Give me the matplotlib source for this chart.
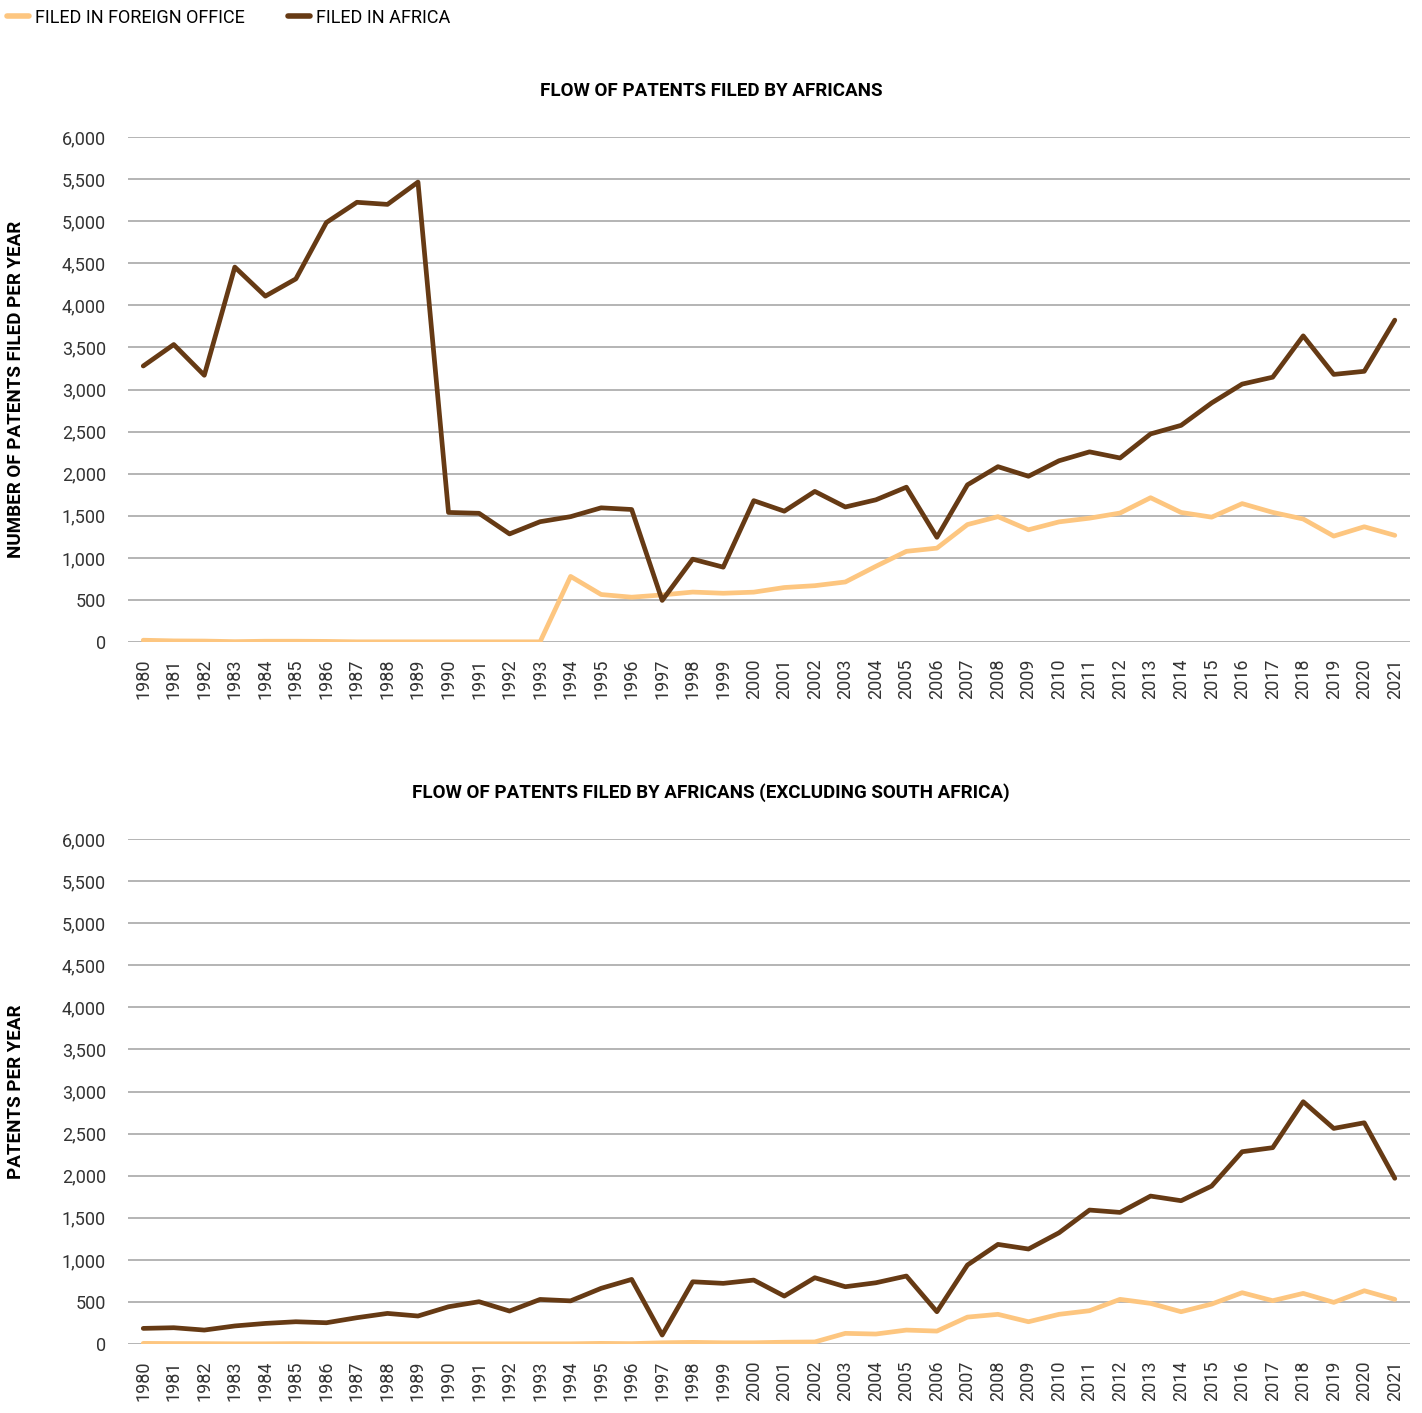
import matplotlib.pyplot as plt
from matplotlib.lines import Line2D
from matplotlib.ticker import StrMethodFormatter

plt.rcParams['font.family'] = ['Roboto', 'DejaVu Sans']

years = list(range(1980, 2022))

# all of Africa
africa_all = [3280, 3535, 3170, 4455, 4110, 4315, 4985, 5225, 5200, 5465,
              1540, 1530, 1285, 1430, 1490, 1595, 1575, 495, 985, 890,
              1680, 1555, 1790, 1605, 1690, 1840, 1245, 1868, 2084, 1970,
              2154, 2260, 2187, 2473, 2575, 2841, 3065, 3147, 3638, 3180,
              3217, 3825]
foreign_all = [22, 14, 12, 5, 10, 10, 8, 3, 3, 3,
               3, 3, 3, 3, 780, 565, 533, 560, 594, 580,
               593, 648, 670, 714, 900, 1078, 1116, 1396, 1490, 1334,
               1428, 1472, 1533, 1715, 1540, 1484, 1645, 1541, 1462, 1259,
               1370, 1268]

# excluding South Africa
africa_ex_za = [186, 194, 166, 215, 245, 265, 253, 313, 364, 333,
                443, 503, 392, 530, 513, 662, 768, 107, 740, 721,
                760, 570, 788, 681, 728, 808, 384, 939, 1184, 1129,
                1322, 1592, 1564, 1758, 1703, 1877, 2285, 2333, 2879, 2562,
                2629, 1969]
foreign_ex_za = [8, 6, 5, 3, 3, 5, 3, 3, 3, 3,
                 3, 3, 3, 3, 3, 8, 5, 15, 20, 15,
                 15, 22, 25, 127, 119, 166, 154, 320, 353, 265,
                 353, 396, 531, 483, 384, 475, 610, 515, 602, 495,
                 633, 531]

foreign_color = '#FDC680'
africa_color = '#663A14'

fig = plt.figure(figsize=(14.22, 14.13), dpi=100)

panels = [
    ([0.090, 0.5456, 0.9016, 0.3574], 0.9356, 'FLOW OF PATENTS FILED BY AFRICANS',
     'NUMBER OF PATENTS FILED PER YEAR', foreign_all, africa_all),
    ([0.090, 0.0488, 0.9016, 0.3574], 0.4388, 'FLOW OF PATENTS FILED BY AFRICANS (EXCLUDING SOUTH AFRICA)',
     'PATENTS PER YEAR', foreign_ex_za, africa_ex_za),
]

for rect, title_y, title, ylabel, foreign, africa in panels:
    ax = fig.add_axes(rect)
    ax.plot(years, foreign, color=foreign_color, lw=3.4, solid_capstyle='round', zorder=3)
    ax.plot(years, africa, color=africa_color, lw=3.4, solid_capstyle='round', zorder=4)

    ax.set_xlim(1979.5, 2021.5)
    ax.set_ylim(0, 6000)
    ax.set_yticks(range(0, 6001, 500))
    ax.yaxis.set_major_formatter(StrMethodFormatter('{x:,.0f}'))
    ax.set_xticks(years)
    ax.set_xticklabels([str(y) for y in years], rotation=90)
    ax.tick_params(axis='both', length=0, labelsize=13, labelcolor='#333333')
    ax.tick_params(axis='y', pad=16)
    ax.tick_params(axis='x', pad=12)

    ax.grid(axis='y', color='#b4b4b4', lw=1.4)
    ax.set_axisbelow(True)
    for s in ax.spines.values():
        s.set_visible(False)

    fig.text(0.5, title_y, title, fontsize=13.5, fontweight='bold', ha='center', va='center')
    ax.set_ylabel(ylabel, fontsize=13.5, fontweight='bold')
    ax.yaxis.set_label_coords(-0.0805, 0.5)

handles = [Line2D([], [], color=foreign_color, lw=4, solid_capstyle='round'),
           Line2D([], [], color=africa_color, lw=4, solid_capstyle='round')]
fig.legend(handles, ['FILED IN FOREIGN OFFICE', 'FILED IN AFRICA'],
           loc='upper left', bbox_to_anchor=(0.0, 0.999), ncol=2, frameon=False,
           fontsize=13, handlelength=1.2, handletextpad=0.35, columnspacing=2.4,
           borderaxespad=0.2, borderpad=0.2)

fig.savefig('out.png', dpi=100)
